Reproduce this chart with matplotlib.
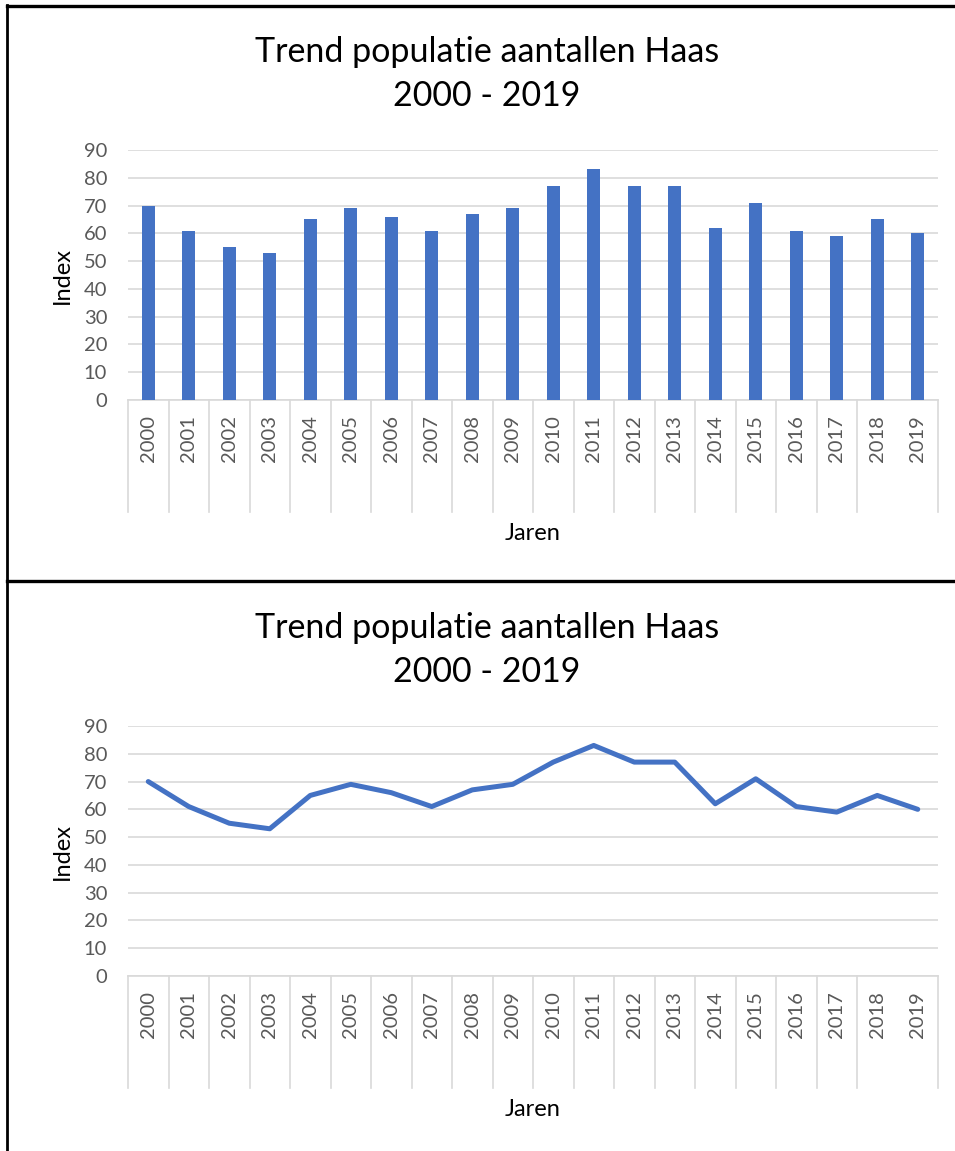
import matplotlib.pyplot as plt
from matplotlib.lines import Line2D

years = [str(y) for y in range(2000, 2020)]
index_values = [70, 61, 55, 53, 65, 69, 66, 61, 67, 69, 77, 83, 77, 77, 62, 71, 61, 59, 65, 60]
y_ticks = [0, 10, 20, 30, 40, 50, 60, 70, 80, 90]
title = "Trend populatie aantallen Haas\n2000 - 2019"

plt.rcParams['font.family'] = ['Lato', 'DejaVu Sans']

W, H = 955, 1151
fig = plt.figure(figsize=(W / 100, H / 100), dpi=100)

blue = '#4472C4'
grid_c = '#D9D9D9'
tick_c = '#595959'


def draw_panel(top_px, kind):
    # axes: y=90 at top_px, y=0 at top_px + 250
    ax = fig.add_axes([128 / W, (H - top_px - 250) / H, 810 / W, 250 / H])
    x = list(range(len(years)))
    if kind == 'bar':
        ax.bar(x, index_values, width=0.33, color=blue, zorder=3)
    else:
        ax.plot(x, index_values, color=blue, lw=3.6, solid_joinstyle='round',
                solid_capstyle='round', zorder=3)
    ax.set_xlim(-0.5, len(years) - 0.5)
    ax.set_ylim(0, 90)
    ax.set_yticks(y_ticks)
    ax.set_yticklabels([str(v) for v in y_ticks], color=tick_c, fontsize=14.5)
    ax.set_xticks(x)
    ax.set_xticklabels(years, rotation=90, color=tick_c, fontsize=14.5, va='top')
    ax.tick_params(axis='both', length=0)
    ax.tick_params(axis='y', pad=15)
    ax.tick_params(axis='x', pad=11)
    for s in ['top', 'right', 'left']:
        ax.spines[s].set_visible(False)
    ax.spines['bottom'].set_color(grid_c)
    ax.spines['bottom'].set_linewidth(1.2)
    ax.grid(axis='y', color=grid_c, lw=1.2, zorder=0)
    ax.set_axisbelow(True)
    # category separators below the axis (Excel style)
    tr = ax.get_xaxis_transform()
    for k in range(len(years) + 1):
        sx = k - 0.5
        if k == len(years) - 1:
            continue
        ax.plot([sx, sx], [0, -112 / 250], color=grid_c, lw=1.2,
                transform=tr, clip_on=False)
    ax.set_ylabel('Index', fontsize=17, labelpad=8)
    fig.text(533 / W, 1 - (top_px + 383) / H, 'Jaren', ha='center', va='center', fontsize=17)
    fig.text(487 / W, 1 - (top_px - 76) / H, title, ha='center', va='center',
             fontsize=24.5, linespacing=1.45)
    return ax


draw_panel(150, 'bar')
draw_panel(726, 'line')

# panel borders
fig.add_artist(Line2D([7 / W, 7 / W], [0, 1 - 5 / H], color='black', lw=2))
fig.add_artist(Line2D([7 / W, 1], [1 - 5.5 / H, 1 - 5.5 / H], color='black', lw=2.4))
fig.add_artist(Line2D([7 / W, 1], [1 - 581 / H, 1 - 581 / H], color='black', lw=2.4))

plt.savefig('out.png', dpi=100)
